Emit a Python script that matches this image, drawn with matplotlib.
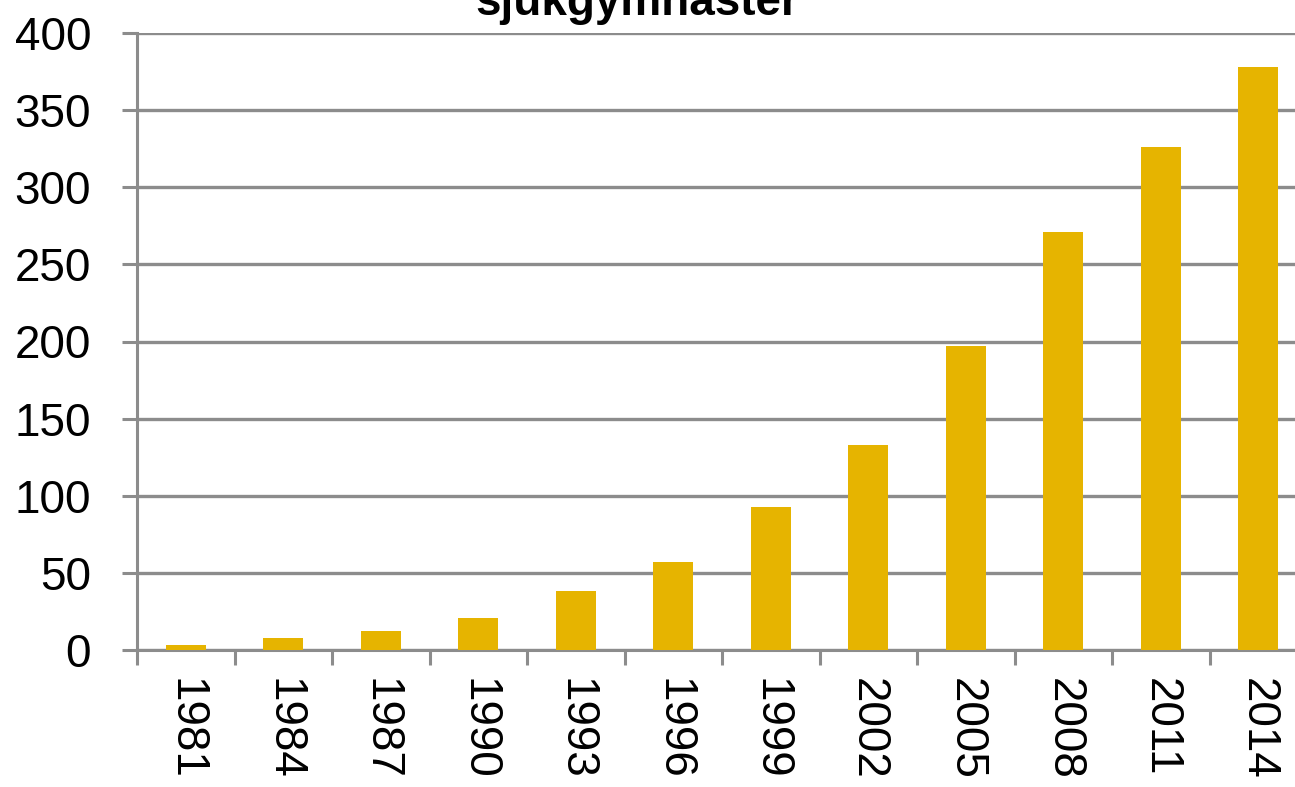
import matplotlib.pyplot as plt
import numpy as np

# Antal sjukgymnaster per år
ar = ['1981', '1984', '1987', '1990', '1993', '1996', '1999', '2002', '2005', '2008', '2011', '2014']
antal = [3, 8, 12, 21, 38, 57, 93, 133, 197, 271, 326, 378]
yticks = [0, 50, 100, 150, 200, 250, 300, 350, 400]

plt.rcParams['font.family'] = ['Liberation Sans', 'DejaVu Sans']

fig = plt.figure(figsize=(12.95, 7.87), dpi=100)
ax = fig.add_axes([137 / 1295, 1 - 650 / 787, 1170 / 1295, 617 / 787])

gra = '#8c8c8c'
x = np.arange(len(ar))
ax.bar(x, antal, width=0.41, color='#E6B400', zorder=3)

ax.set_xlim(-0.5, len(ar) - 0.5)
ax.set_ylim(0, 400)
ax.set_yticks(yticks)
ax.set_xticks(x)
ax.set_xticklabels(ar, rotation=-90, ha='center', va='top')
ax.set_xticks(np.arange(len(ar) + 1) - 0.5, minor=True)

ax.yaxis.grid(True, color=gra, linewidth=2.4, zorder=0)
ax.tick_params(axis='y', length=11, width=2.2, color=gra, labelsize=33, pad=22)
ax.tick_params(axis='x', which='major', length=0, labelsize=33, pad=20)
ax.tick_params(axis='x', which='minor', length=11, width=2.2, color=gra)

for s in ['top', 'right']:
    ax.spines[s].set_visible(False)
for s in ['left', 'bottom']:
    ax.spines[s].set_color(gra)
    ax.spines[s].set_linewidth(2.2)
ax.set_axisbelow(True)

fig.text(637 / 1295, 1 - 15 / 787, 'sjukgymnaster', ha='center', va='baseline',
         fontsize=33, fontweight='bold')

plt.savefig('out.png', dpi=100)
